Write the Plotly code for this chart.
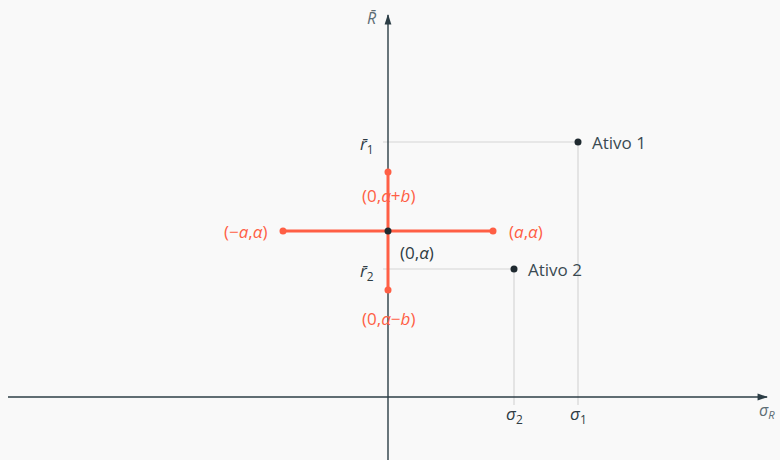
import plotly.graph_objects as go

# Assets: (sigma, mean return)
asset_names = ["Ativo 1", "Ativo 2"]
sigma = [19.0, 12.6]
ret = [25.5, 12.8]

# Cross of admissible region around (0, alpha)
alpha = 16.6
a = 10.5
b = 5.9

AXIS = "#2c3e46"
DARK = "#1f2a30"
RED = "#ff5f45"
GUIDE = "#d6d6d6"
GREY = "#5d6d75"
BG = "#f9f9f9"
FONT = "Open Sans"

x_range = [-38.8, 39.2]
y_range = [-6.3, 39.7]

fig = go.Figure()

# guide lines from each asset to the axes
for s, r in zip(sigma, ret):
    fig.add_shape(type="line", x0=-0.5, x1=s, y0=r, y1=r,
                  line=dict(color=GUIDE, width=1.2), layer="below")
    fig.add_shape(type="line", x0=s, x1=s, y0=r, y1=-0.8,
                  line=dict(color=GUIDE, width=1.2), layer="below")

# axes with arrowheads
fig.add_trace(go.Scatter(x=[-38.0, 37.9], y=[0, 0], mode="lines",
                         line=dict(color=AXIS, width=1.4), hoverinfo="skip"))
fig.add_trace(go.Scatter(x=[0, 0], y=[-6.4, 38.2], mode="lines",
                         line=dict(color=AXIS, width=1.4), hoverinfo="skip"))
fig.add_trace(go.Scatter(x=[38.0], y=[0], mode="markers",
                         marker=dict(symbol="arrow", angle=90, size=11, color=AXIS),
                         hoverinfo="skip"))
fig.add_trace(go.Scatter(x=[0], y=[38.3], mode="markers",
                         marker=dict(symbol="arrow", angle=0, size=11, color=AXIS),
                         hoverinfo="skip"))

# red cross
fig.add_trace(go.Scatter(x=[-a, a], y=[alpha, alpha], mode="lines+markers",
                         line=dict(color=RED, width=3),
                         marker=dict(color=RED, size=7), hoverinfo="skip"))
fig.add_trace(go.Scatter(x=[0, 0], y=[alpha + b, alpha - b], mode="lines+markers",
                         line=dict(color=RED, width=3),
                         marker=dict(color=RED, size=7), hoverinfo="skip"))
fig.add_trace(go.Scatter(x=[0], y=[alpha], mode="markers",
                         marker=dict(color=DARK, size=7), hoverinfo="skip"))

# assets
fig.add_trace(go.Scatter(x=sigma, y=ret, mode="markers",
                         marker=dict(color=DARK, size=7), hoverinfo="skip"))
for name, s, r in zip(asset_names, sigma, ret):
    fig.add_annotation(x=s, y=r, text=name, showarrow=False, xanchor="left",
                       xshift=12, font=dict(size=17, color="#3a4a52", family=FONT))

def label(x, y, text, color, size=17, **kw):
    fig.add_annotation(x=x, y=y, text=text, showarrow=False,
                       font=dict(size=size, color=color, family=FONT), **kw)

# cross labels
label(0, alpha + b, "(0,<i>α</i>+<i>b</i>)", RED, yshift=-23)
label(0, alpha - b, "(0,<i>α</i>−<i>b</i>)", RED, yshift=-28)
label(-a, alpha, "(−<i>a</i>,<i>α</i>)", RED, xanchor="right", xshift=-14)
label(a, alpha, "(<i>a</i>,<i>α</i>)", RED, xanchor="left", xshift=14)
label(0, alpha, "(0,<i>α</i>)", "#2e3c44", xanchor="left", xshift=10, yshift=-21)

# axis tick labels
for i, r in enumerate(ret):
    label(0, r, f"<i>r̄</i><sub>{i + 1}</sub>", "#2e3c44", xanchor="right", xshift=-12, yshift=-2)
for i, s in enumerate(sigma):
    label(s, 0, f"<i>σ</i><sub>{i + 1}</sub>", "#2e3c44", yshift=-17)

# axis names
label(-1.6, 37.9, "<i>R̄</i>", GREY, size=16)
label(37.9, -1.3, "<i>σ</i><sub><i>R</i></sub>", GREY, size=16)

fig.update_layout(
    width=780, height=460,
    margin=dict(l=0, r=0, t=0, b=0),
    paper_bgcolor=BG, plot_bgcolor=BG,
    showlegend=False,
    xaxis=dict(range=x_range, visible=False, fixedrange=True),
    yaxis=dict(range=y_range, visible=False, fixedrange=True),
)

fig.write_html("out.html")
